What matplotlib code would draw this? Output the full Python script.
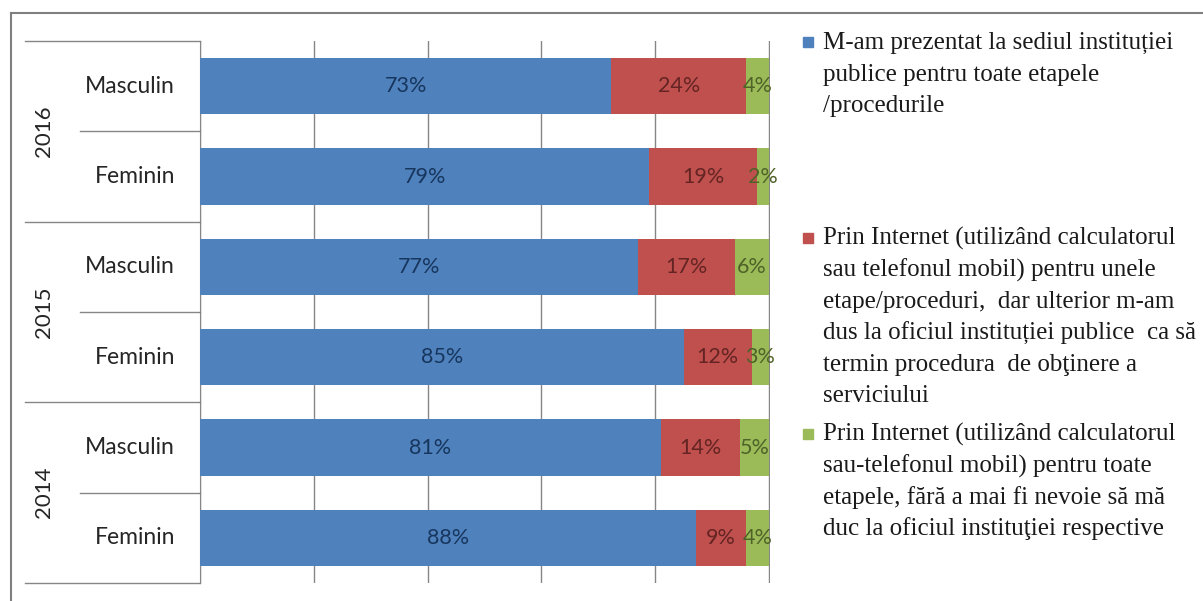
import matplotlib.pyplot as plt
import numpy as np
from matplotlib.lines import Line2D
from matplotlib.patches import Rectangle
from matplotlib.transforms import blended_transform_factory

# datele (de jos în sus, ca în grafic)
ani = ['2014', '2015', '2016']
sexe = ['Feminin', 'Masculin', 'Feminin', 'Masculin', 'Feminin', 'Masculin']
sediu = [88, 81, 85, 77, 79, 73]
partial = [9, 14, 12, 17, 19, 24]
complet = [4, 5, 3, 6, 2, 4]

legenda = [
    'M-am prezentat la sediul instituției\npublice pentru toate etapele\n/procedurile',
    'Prin Internet (utilizând calculatorul\nsau telefonul mobil) pentru unele\n'
    'etape/proceduri,  dar ulterior m-am\ndus la oficiul instituției publice  ca să\n'
    'termin procedura  de obţinere a\nserviciului',
    'Prin Internet (utilizând calculatorul\nsau-telefonul mobil) pentru toate\n'
    'etapele, fără a mai fi nevoie să mă\nduc la oficiul instituţiei respective',
]

culori = ['#4F81BD', '#C0504D', '#9BBB59']
culori_text = ['#17365D', '#632423', '#4F6228']

W, H = 1203, 601
fig = plt.figure(figsize=(W / 100, H / 100), dpi=100)
ax = fig.add_axes([200 / W, 1 - 583 / H, 570 / W, 542 / H])

serii = [np.array(sediu, float), np.array(partial, float), np.array(complet, float)]
total = serii[0] + serii[1] + serii[2]
y = np.arange(len(sexe))
stanga = np.zeros(len(sexe))
for vals, c, ct in zip(serii, culori, culori_text):
    frac = vals / total
    ax.barh(y, frac, left=stanga, height=0.62, color=c, zorder=3)
    for yi, l, f, v in zip(y, stanga, frac, vals):
        ax.text(l + f / 2, yi, f'{int(v)}%', ha='center', va='center',
                fontsize=15.5, color=ct, family='Lato', zorder=4)
    stanga = stanga + frac

ax.set_xlim(0, 1.002)
ax.set_ylim(-0.5, len(sexe) - 0.5)
ax.set_xticks(np.linspace(0, 1, 6))
ax.set_xticklabels([])
ax.tick_params(axis='x', length=0)
ax.set_yticks([])
ax.grid(axis='x', color='#868686', linewidth=1, zorder=0)
for s in ['top', 'right', 'bottom']:
    ax.spines[s].set_visible(False)
ax.spines['left'].set_color('#868686')

# axa de categorii pe două niveluri
tr = blended_transform_factory(ax.transAxes, ax.transData)
for yi, s in zip(y, sexe):
    ax.text(-0.044, yi, s, ha='right', va='center', fontsize=16.5,
            family='Lato', color='#262626', transform=tr)
for k, an in enumerate(ani):
    ax.text(-0.274, 2 * k + 0.5, an, ha='center', va='center', fontsize=16,
            family='Lato', color='#262626', rotation=90, transform=tr)
for yl in [-0.5, 1.5, 3.5, 5.5]:
    ax.add_line(Line2D([-0.307, 0], [yl, yl], color='#868686', lw=1,
                       transform=tr, clip_on=False))
for yl in [0.5, 2.5, 4.5]:
    ax.add_line(Line2D([-0.21, 0], [yl, yl], color='#868686', lw=1,
                       transform=tr, clip_on=False))

# legenda (câte un rând de text pe linie)
pozitii = [42, 238, 434]
pas = 31.5
for txt, c, yp in zip(legenda, culori, pozitii):
    fig.patches.append(Rectangle((803 / W, 1 - (yp + 5) / H), 10 / W, 10 / H,
                                 transform=fig.transFigure, color=c))
    for i, rand in enumerate(txt.split('\n')):
        fig.text(823 / W, 1 - (yp + 7 + i * pas) / H, rand, ha='left', va='baseline',
                 fontsize=18, family='Liberation Serif', color='#1a1a1a')

# chenarul exterior
fig.add_artist(Line2D([11 / W, 1], [1 - 13 / H, 1 - 13 / H], color='#7f7f7f', lw=1.5))
fig.add_artist(Line2D([11 / W, 11 / W], [0, 1 - 13 / H], color='#7f7f7f', lw=1.5))

fig.savefig('out.png', dpi=100)
